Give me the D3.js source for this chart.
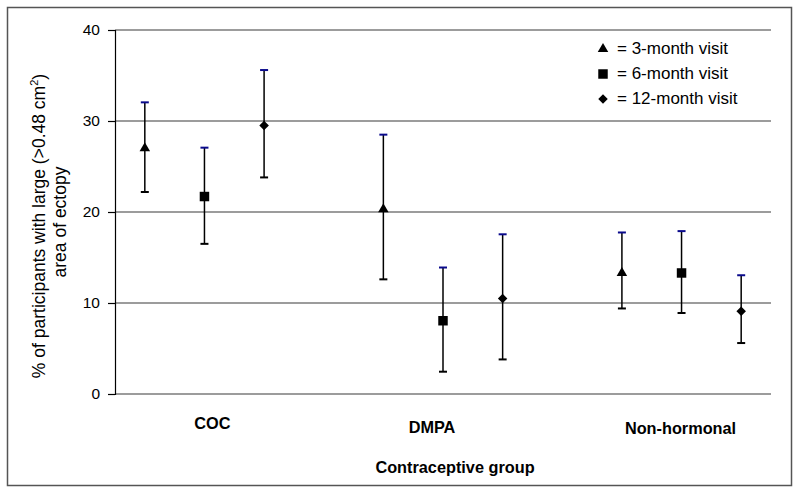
<!DOCTYPE html>
<html>
<head>
<meta charset="utf-8">
<script src="https://cdn.jsdelivr.net/npm/d3@7"></script>
<style>
  html, body { margin: 0; padding: 0; background: #fff; }
  svg { display: block; font-family: "Liberation Sans", Arial, sans-serif; }
</style>
</head>
<body>
<svg id="chart" width="800" height="495"></svg>
<script>
// ---- data ----
const groups = ["COC", "DMPA", "Non-hormonal"];
const visits = ["3-month visit", "6-month visit", "12-month visit"];
const mean3  = [27.0, 20.3, 13.3];
const lower3 = [22.2, 12.6, 9.4];
const upper3 = [32.05, 28.5, 17.75];
const mean6  = [21.7, 8.05, 13.3];
const lower6 = [16.5, 2.45, 8.9];
const upper6 = [27.07, 13.9, 17.9];
const mean12  = [29.5, 10.5, 9.1];
const lower12 = [23.8, 3.8, 5.6];
const upper12 = [35.6, 17.55, 13.05];
const yTicks = [0, 10, 20, 30, 40];

// ---- layout ----
const svg = d3.select("#chart");
const plotL = 115, plotR = 771, plotT = 30, plotB = 394;
const nSlots = 11; // 3 groups x 3 visits, with one empty slot between groups

const x = d3.scaleBand().domain(d3.range(nSlots)).range([plotL, plotR]);
const y = d3.scaleLinear().domain([0, 40]).range([plotB, plotT]);

const series = [
  { name: visits[0], mean: mean3,  lower: lower3,  upper: upper3,  symbol: d3.symbolTriangle },
  { name: visits[1], mean: mean6,  lower: lower6,  upper: upper6,  symbol: d3.symbolSquare },
  { name: visits[2], mean: mean12, lower: lower12, upper: upper12, symbol: d3.symbolDiamond2 }
];

const points = [];
series.forEach((s, vi) => {
  groups.forEach((g, gi) => {
    points.push({ slot: gi * 4 + vi, mean: s.mean[gi], lower: s.lower[gi], upper: s.upper[gi], symbol: s.symbol });
  });
});
const cx = d => x(d.slot) + x.bandwidth() / 2;

// outer frame
svg.append("rect").attr("x", 7.5).attr("y", 7.5).attr("width", 784).attr("height", 478)
  .attr("fill", "none").attr("stroke", "#555").attr("stroke-width", 1.5);

// gridlines
svg.append("g").selectAll("line").data(yTicks).join("line")
  .attr("x1", plotL).attr("x2", plotR)
  .attr("y1", d => y(d)).attr("y2", d => y(d))
  .attr("stroke", "#3a3a3a").attr("stroke-width", 1.2);

// y axis
const yAxis = svg.append("g").attr("transform", `translate(${plotL},0)`)
  .call(d3.axisLeft(y).tickValues(yTicks).tickSize(7).tickPadding(8));
yAxis.select(".domain").attr("stroke", "#000").attr("stroke-width", 1.2);
yAxis.selectAll(".tick line").attr("stroke", "#000").attr("stroke-width", 1.2);
yAxis.selectAll(".tick text").attr("font-size", 15.5).attr("fill", "#000")
  .attr("font-family", "Liberation Sans, Arial, sans-serif");

// error bars
const eb = svg.append("g");
eb.selectAll("line.v").data(points).join("line").attr("class", "v")
  .attr("x1", cx).attr("x2", cx)
  .attr("y1", d => y(d.lower)).attr("y2", d => y(d.upper))
  .attr("stroke", "#000").attr("stroke-width", 1.5);
eb.selectAll("line.up").data(points).join("line").attr("class", "up")
  .attr("x1", d => cx(d) - 4).attr("x2", d => cx(d) + 4)
  .attr("y1", d => y(d.upper)).attr("y2", d => y(d.upper))
  .attr("stroke", "#0a0a8c").attr("stroke-width", 2);
eb.selectAll("line.lo").data(points).join("line").attr("class", "lo")
  .attr("x1", d => cx(d) - 4).attr("x2", d => cx(d) + 4)
  .attr("y1", d => y(d.lower)).attr("y2", d => y(d.lower))
  .attr("stroke", "#000").attr("stroke-width", 2);

// markers
function sym(s) {
  if (s === d3.symbolTriangle) return d3.symbol(s, 48)();
  if (s === d3.symbolSquare) return d3.symbol(s, 90)();
  return d3.symbol(s, 58)();
}
svg.append("g").selectAll("path").data(points).join("path")
  .attr("transform", d => `translate(${cx(d)},${y(d.mean)})`)
  .attr("d", d => sym(d.symbol))
  .attr("fill", "#000");

// category labels
const labelDx = [8, -11, -1];
const labelY = [429, 433, 434];
svg.append("g").selectAll("text").data(groups).join("text")
  .attr("x", (g, i) => x(i * 4 + 1) + x.bandwidth() / 2 + labelDx[i])
  .attr("y", (g, i) => labelY[i])
  .attr("text-anchor", "middle").attr("font-weight", "bold").attr("font-size", 16.3)
  .text(g => g);

// x title
svg.append("text").attr("x", 455).attr("y", 473).attr("text-anchor", "middle")
  .attr("font-weight", "bold").attr("font-size", 16.3).text("Contraceptive group");

// y title
const yt = svg.append("text").attr("transform", "translate(45,226) rotate(-90)")
  .attr("text-anchor", "middle").attr("font-size", 17.5);
yt.append("tspan").text("% of participants with large (>0.48 cm");
yt.append("tspan").attr("dy", -7).attr("font-size", 11).text("2");
yt.append("tspan").attr("dy", 7).text(")");
svg.append("text").attr("transform", "translate(66,222) rotate(-90)")
  .attr("text-anchor", "middle").attr("font-size", 17.5).text("area of ectopy");

// legend
const legend = svg.append("g");
series.forEach((s, i) => {
  const by = 54 + i * 25;
  legend.append("path").attr("transform", `translate(603,${by - 5})`)
    .attr("d", sym(s.symbol)).attr("fill", "#000");
  legend.append("text").attr("x", 617).attr("y", by).attr("font-size", 17).text("= " + s.name);
});
</script>
</body>
</html>
